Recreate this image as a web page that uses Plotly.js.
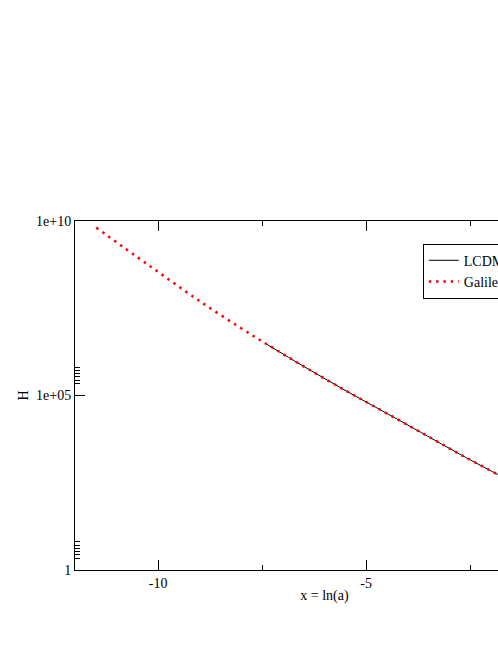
<!DOCTYPE html>
<html>
<head>
<meta charset="utf-8">
<script src="https://cdn.plot.ly/plotly-3.0.1.min.js"></script>
<style>
  html, body { margin: 0; padding: 0; overflow: hidden; background: #fff; }
</style>
</head>
<body>
<div id="chart"></div>
<script>
// values (x = ln(a), H on log scale)
const galileonX = [-11.49, -10.26, -9.02, -7.77, -7.22, -6.48, -5.55, -4.61, -3.66, -2.72, -1.84, -1.5];
const galileonH = [6.46e9, 5.75e8, 5.25e7, 5.62e6, 2.24e6, 6.6e5, 1.51e5, 3.63e4, 8.5e3, 2.0e3, 550, 331];

const lcdmX = [-7.40, -6.48, -5.55, -4.61, -3.66, -2.72, -1.84, -1.5];
const lcdmH = [3.0e6, 6.6e5, 1.51e5, 3.63e4, 8.5e3, 2.0e3, 550, 331];

const xTickVals = [-10, -5, 0];
const xTickText = ['-10', '-5', '0'];
const xMinorVals = [-7.5, -2.5];
const yTickVals = [1, 1e5, 1e10];
const yTickText = ['1', '1e+05', '1e+10'];
// the small ticks sit just above 1 and 1e+05 only
const yMinorVals = [2.2, 2.7, 3.4, 4.2, 5.2, 6.5, 2.2e5, 2.7e5, 3.4e5, 4.2e5, 5.2e5, 6.5e5];

const font = { family: 'Liberation Serif, Times New Roman, serif', size: 14, color: '#000' };

const traces = [
  {
    x: lcdmX, y: lcdmH,
    mode: 'lines',
    name: 'LCDM',
    line: { color: '#000', width: 1, shape: 'spline' }
  },
  {
    x: galileonX, y: galileonH,
    mode: 'lines',
    name: 'Galileon',
    line: { color: '#ff0000', width: 2.5, dash: '2.5px,4.8px', shape: 'spline' }
  }
];

// plot is wider than the window, so the right side gets cut off like the reference
const layout = {
  width: 650,
  height: 645,
  margin: { l: 75, r: 76, t: 221, b: 75 },
  paper_bgcolor: '#fff',
  plot_bgcolor: '#fff',
  font: font,
  showlegend: true,
  legend: {
    x: 0.697, y: 0.935, xanchor: 'left', yanchor: 'top',
    bordercolor: '#000', borderwidth: 1, bgcolor: '#fff',
    font: font, tracegroupgap: 0
  },
  xaxis: {
    range: [-12, 0],
    tickvals: xTickVals, ticktext: xTickText,
    ticks: 'inside', ticklen: 10, tickcolor: '#000', tickwidth: 1,
    minor: { tickvals: xMinorVals, ticks: 'inside', ticklen: 5, tickcolor: '#000', tickwidth: 1, showgrid: false },
    showline: true, linecolor: '#000', linewidth: 1, mirror: 'ticks',
    showgrid: false, zeroline: false,
    title: { text: 'x = ln(a)', font: font, standoff: 0 }
  },
  yaxis: {
    type: 'log',
    range: [0, 10],
    tickvals: yTickVals, ticktext: yTickText,
    ticks: 'inside', ticklen: 10, tickcolor: '#000', tickwidth: 1,
    minor: { tickvals: yMinorVals, ticks: 'inside', ticklen: 5, tickcolor: '#000', tickwidth: 1, showgrid: false },
    showline: true, linecolor: '#000', linewidth: 1, mirror: 'ticks',
    showgrid: false, zeroline: false,
    title: { text: 'H', font: font, standoff: 4 }
  }
};

Plotly.newPlot('chart', traces, layout, { displayModeBar: false, staticPlot: true });
</script>
</body>
</html>
